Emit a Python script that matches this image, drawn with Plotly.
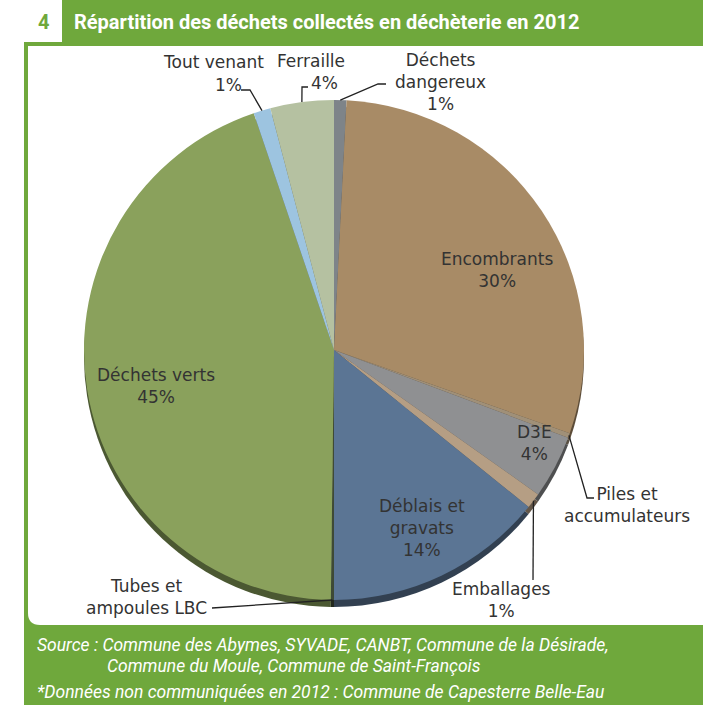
import math
import plotly.graph_objects as go

# ---------------- data ----------------
categories = ["Déchets dangereux", "Encombrants", "Piles et accumulateurs", "D3E",
              "Emballages", "Déblais et gravats", "Tubes et ampoules LBC",
              "Déchets verts", "Tout venant", "Ferraille"]
values = [0.8, 29.6, 0.3, 4.1, 1.0, 14.2, 0.2, 44.6, 1.1, 4.1]
pct_labels = ["1%", "30%", "", "4%", "1%", "14%", "", "45%", "1%", "4%"]
colors = ["#7E8489", "#A88B66", "#A09078", "#8F9092", "#B59E84", "#5B7594",
          "#3E4A35", "#8AA15C", "#9DC4E0", "#B5C1A1"]

title_text = "Répartition des déchets collectés en déchèterie en 2012"
source_lines = ["Source : Commune des Abymes, SYVADE, CANBT, Commune de la Désirade,",
                "Commune du Moule, Commune de Saint-François",
                "*Données non communiquées en 2012 : Commune de Capesterre Belle-Eau"]

# ---------------- layout geometry (pixels) ----------------
W, H = 703, 705
CX, CY, R = 334, 350, 250
RIM = 7
GREEN = "#6FA83C"
FONT = "DejaVu Sans"
TXT = "#333333"
LFS = 17


def px(x):
    return x / W


def py(y):
    return 1 - y / H


def darken(hexc, f=0.55):
    h = hexc.lstrip("#")
    r, g, b = (int(h[i:i + 2], 16) for i in (0, 2, 4))
    return "#%02x%02x%02x" % (int(r * f), int(g * f), int(b * f))


def domain(cy):
    return dict(x=[px(CX - R), px(CX + R)], y=[py(cy + R), py(cy - R)])


fig = go.Figure()

# rim (3D thickness) drawn under the pie
fig.add_trace(go.Pie(
    labels=categories, values=values, sort=False, direction="clockwise",
    rotation=0, marker=dict(colors=[darken(c) for c in colors], line=dict(width=0)),
    textinfo="none", hoverinfo="skip", showlegend=False, domain=domain(CY + RIM)))

fig.add_trace(go.Pie(
    labels=categories, values=values, sort=False,
    direction="clockwise", rotation=0,
    marker=dict(colors=colors, line=dict(width=0)),
    textinfo="none", hovertemplate="%{label}: %{percent:.0%}<extra></extra>",
    showlegend=False, domain=domain(CY)))

shapes = []
# green frame
shapes.append(dict(type="rect", xref="paper", yref="paper", x0=px(24), x1=px(W),
                   y0=py(H), y1=py(42), fillcolor=GREEN, line=dict(width=0), layer="below"))
shapes.append(dict(type="rect", xref="paper", yref="paper", x0=px(62), x1=px(W),
                   y0=py(46), y1=py(0), fillcolor=GREEN, line=dict(width=0), layer="below"))
# inner white panel with rounded bottom-left corner
rr = 12
path = (f"M {px(28)},{py(46)} L {px(W)},{py(46)} L {px(W)},{py(625)} "
        f"L {px(28 + rr)},{py(625)} Q {px(28)},{py(625)} {px(28)},{py(625 - rr)} Z")
shapes.append(dict(type="path", xref="paper", yref="paper", path=path,
                   fillcolor="white", line=dict(width=0), layer="below"))

# leader lines: start at slice mid-angle on the pie edge (computed from values)
total = sum(values)
cum = 0
mid_angle = {}
for c, v in zip(categories, values):
    mid_angle[c] = (cum + v / 2) / total * 2 * math.pi
    cum += v


def edge(cat, extra=0):
    a = mid_angle[cat]
    return CX + (R + extra) * math.sin(a), CY - (R + extra) * math.cos(a)


leaders = {
    "Tout venant": [(250, 90), (241, 90)],
    "Ferraille": [(302, 87), (308, 87)],
    "Déchets dangereux": [(378, 84), (386, 84)],
    "Piles et accumulateurs": [(587, 498), (594, 498)],
    "Emballages": [(533, 580)],
    "Tubes et ampoules LBC": [(212, 608)],
}
for cat, pts in leaders.items():
    allp = [edge(cat)] + pts
    d = "M " + " L ".join(f"{px(x)},{py(y)}" for x, y in allp)
    shapes.append(dict(type="path", xref="paper", yref="paper", path=d,
                       line=dict(color="#222222", width=1.3)))

annotations = []
pct = dict(zip(categories, pct_labels))


def txt(x, y, s, size=LFS, color=TXT, xanchor="center", family=FONT, **kw):
    annotations.append(dict(x=px(x), y=py(y), xref="paper", yref="paper", text=s,
                            showarrow=False, xanchor=xanchor, yanchor="middle",
                            font=dict(family=family, size=size, color=color), **kw))


# inside labels
txt(497, 270, "Encombrants<br>" + pct["Encombrants"], align="center")
txt(534, 443, "D3E<br>" + pct["D3E"], align="center")
txt(422, 528, "Déblais et<br>gravats<br>" + pct["Déblais et gravats"], align="center")
txt(156, 386, "Déchets verts<br>" + pct["Déchets verts"], align="center")

# outside labels
txt(213, 62, "Tout venant")
txt(228, 85, pct["Tout venant"])
txt(311, 61, "Ferraille")
txt(324, 83, pct["Ferraille"])
txt(440, 82, "Déchets<br>dangereux<br>" + pct["Déchets dangereux"], align="center")
txt(627, 505, "Piles et<br>accumulateurs", align="center")
txt(501, 600, "Emballages<br>" + pct["Emballages"], align="center")
txt(146, 597, "Tubes et<br>ampoules LBC", align="center")

# title
txt(43, 22, "<b>4</b>", size=20, color=GREEN, family="Roboto")
txt(72, 22, "<b>" + title_text + "</b>", size=20, color="white",
    xanchor="left", family="Roboto, sans-serif")
# source
SRC_FONT = "Roboto, sans-serif"
txt(35, 645, "<i>" + source_lines[0] + "</i>", size=17.5, color="white", xanchor="left", family=SRC_FONT)
txt(105, 666, "<i>" + source_lines[1] + "</i>", size=17.5, color="white", xanchor="left", family=SRC_FONT)
txt(35, 692, "<i>" + source_lines[2] + "</i>", size=17.5, color="white", xanchor="left", family=SRC_FONT)

fig.update_layout(width=W, height=H, margin=dict(l=0, r=0, t=0, b=0),
                  paper_bgcolor="white", plot_bgcolor="white",
                  shapes=shapes, annotations=annotations)

fig.write_html("out.html", config={"displayModeBar": False},
               post_script="document.body.style.margin='0';document.body.style.padding='0';")
